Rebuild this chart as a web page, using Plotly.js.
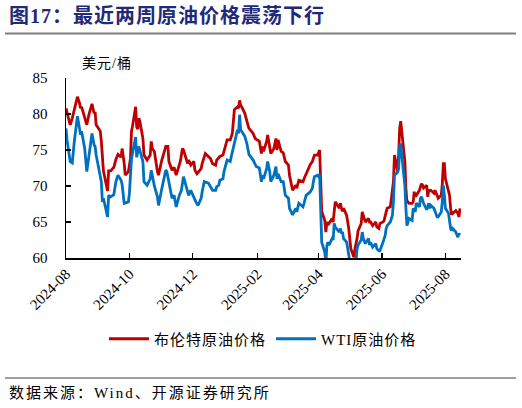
<!DOCTYPE html>
<html>
<head>
<meta charset="utf-8">
<script src="https://cdn.plot.ly/plotly-3.0.1.min.js"></script>
<style>
  body { margin: 0; background: #fff; }
  #chart { width: 522px; height: 408px; }
</style>
</head>
<body>
<div id="chart"></div>
<script>
const brentDates = [
  "2024-08-01","2024-08-02","2024-08-05","2024-08-07","2024-08-09","2024-08-12","2024-08-14","2024-08-15","2024-08-16","2024-08-19",
  "2024-08-21","2024-08-23","2024-08-26","2024-08-28","2024-08-29","2024-08-30","2024-09-03","2024-09-04","2024-09-05","2024-09-06",
  "2024-09-10","2024-09-11","2024-09-13","2024-09-16","2024-09-18","2024-09-20","2024-09-23","2024-09-24","2024-09-26","2024-09-27",
  "2024-09-30","2024-10-02","2024-10-03","2024-10-04","2024-10-07","2024-10-08","2024-10-09","2024-10-10","2024-10-11","2024-10-14",
  "2024-10-15","2024-10-18","2024-10-21","2024-10-22","2024-10-23","2024-10-25","2024-10-28","2024-10-29","2024-11-01","2024-11-05",
  "2024-11-07","2024-11-08","2024-11-11","2024-11-13","2024-11-15","2024-11-18","2024-11-19","2024-11-21","2024-11-22","2024-11-25",
  "2024-11-26","2024-11-27","2024-11-29","2024-12-02","2024-12-03","2024-12-05","2024-12-09","2024-12-10","2024-12-12","2024-12-13",
  "2024-12-16","2024-12-18","2024-12-20","2024-12-23","2024-12-24","2024-12-27","2024-12-30","2024-12-31","2025-01-02","2025-01-03",
  "2025-01-06","2025-01-08","2025-01-10","2025-01-13","2025-01-14","2025-01-15","2025-01-16","2025-01-17","2025-01-20","2025-01-21",
  "2025-01-23","2025-01-24","2025-01-28","2025-01-30","2025-02-03","2025-02-05","2025-02-06","2025-02-07","2025-02-10","2025-02-11",
  "2025-02-13","2025-02-14","2025-02-17","2025-02-19","2025-02-20","2025-02-21","2025-02-24","2025-02-26","2025-02-28","2025-03-03",
  "2025-03-04","2025-03-06","2025-03-07","2025-03-10","2025-03-11","2025-03-13","2025-03-17","2025-03-18","2025-03-20","2025-03-24",
  "2025-03-26","2025-03-27","2025-03-28","2025-03-31","2025-04-02","2025-04-03","2025-04-04","2025-04-07","2025-04-08","2025-04-09",
  "2025-04-10","2025-04-11","2025-04-14","2025-04-15","2025-04-16","2025-04-17","2025-04-21","2025-04-22","2025-04-23","2025-04-24",
  "2025-04-25","2025-04-28","2025-04-30","2025-05-02","2025-05-05","2025-05-06","2025-05-08","2025-05-09","2025-05-12","2025-05-13",
  "2025-05-14","2025-05-16","2025-05-19","2025-05-20","2025-05-21","2025-05-22","2025-05-23","2025-05-26","2025-05-27","2025-05-29",
  "2025-05-30","2025-06-02","2025-06-03","2025-06-05","2025-06-06","2025-06-09","2025-06-11","2025-06-12","2025-06-13","2025-06-16",
  "2025-06-17","2025-06-18","2025-06-19","2025-06-20","2025-06-23","2025-06-24","2025-06-25","2025-06-26","2025-06-27","2025-06-30",
  "2025-07-01","2025-07-02","2025-07-03","2025-07-04","2025-07-07","2025-07-08","2025-07-09","2025-07-10","2025-07-11","2025-07-14",
  "2025-07-15","2025-07-16","2025-07-18","2025-07-21","2025-07-22","2025-07-24","2025-07-25","2025-07-28","2025-07-29","2025-07-30",
  "2025-07-31","2025-08-01","2025-08-04","2025-08-05","2025-08-06","2025-08-07","2025-08-08","2025-08-11","2025-08-13","2025-08-14",
  "2025-08-15"
];
const brentPrices = [
  80.8,80.1,78.5,79.4,80.8,82.4,81.5,80.8,81.0,79.4,
  78.5,79.9,81.4,80.1,80.3,78.5,77.6,76.2,73.0,72.1,
  69.3,72.1,72.1,72.6,73.7,74.4,74.0,75.2,73.1,71.5,
  72.0,73.8,77.6,78.3,81.0,78.2,77.9,79.4,79.0,76.6,
  74.3,73.6,74.3,76.2,75.2,74.8,72.0,71.5,73.5,75.5,
  75.5,73.4,72.2,72.6,71.5,73.1,73.4,75.2,75.0,73.6,
  73.1,73.6,72.9,73.4,72.2,71.7,72.4,73.1,74.1,74.5,
  74.1,73.8,73.1,72.9,73.6,74.1,74.3,74.8,75.7,76.4,
  76.4,77.3,80.6,81.0,80.8,81.9,81.2,81.0,80.1,79.4,
  78.5,78.0,77.3,76.6,76.2,74.5,75.5,74.8,76.2,77.1,
  75.5,74.5,75.2,76.6,75.0,76.4,74.8,74.6,73.4,72.9,
  71.5,69.9,69.4,70.1,69.7,70.8,70.6,71.0,71.7,73.0,
  73.4,74.1,74.3,74.3,75.0,70.8,66.5,65.2,63.6,65.0,
  64.6,64.8,65.5,65.0,66.5,67.8,66.9,67.6,66.9,66.5,
  66.9,65.9,64.1,61.3,60.1,61.3,62.7,63.8,64.8,66.4,
  65.9,65.0,65.5,65.0,65.0,64.8,64.5,65.0,64.3,64.1,
  64.8,65.0,65.2,66.4,66.9,67.1,69.2,70.6,74.3,72.0,
  74.3,78.0,79.0,77.6,73.4,69.7,67.8,67.8,67.6,67.6,
  67.8,69.2,68.5,68.7,69.4,69.9,70.3,70.1,69.7,70.1,
  68.5,69.4,69.4,69.0,69.4,68.7,68.3,68.7,70.3,73.1,
  73.1,71.0,69.0,68.7,66.9,66.0,66.2,66.6,66.2,65.7,
  66.9
];

const wtiDates = [
  "2024-08-01","2024-08-02","2024-08-05","2024-08-07","2024-08-09","2024-08-12","2024-08-14","2024-08-15","2024-08-16","2024-08-19",
  "2024-08-21","2024-08-23","2024-08-26","2024-08-28","2024-08-29","2024-08-30","2024-09-03","2024-09-04","2024-09-05","2024-09-06",
  "2024-09-10","2024-09-11","2024-09-13","2024-09-16","2024-09-18","2024-09-20","2024-09-23","2024-09-24","2024-09-26","2024-09-30",
  "2024-10-01","2024-10-02","2024-10-03","2024-10-07","2024-10-08","2024-10-10","2024-10-11","2024-10-14","2024-10-15","2024-10-18",
  "2024-10-21","2024-10-22","2024-10-23","2024-10-25","2024-10-28","2024-10-29","2024-11-01","2024-11-05","2024-11-06","2024-11-08",
  "2024-11-11","2024-11-13","2024-11-15","2024-11-18","2024-11-20","2024-11-22","2024-11-25","2024-11-26","2024-11-27","2024-11-29",
  "2024-12-02","2024-12-04","2024-12-06","2024-12-09","2024-12-10","2024-12-12","2024-12-16","2024-12-18","2024-12-20","2024-12-23",
  "2024-12-24","2024-12-26","2024-12-27","2024-12-30","2024-12-31","2025-01-03","2025-01-06","2025-01-07","2025-01-10","2025-01-13",
  "2025-01-14","2025-01-15","2025-01-16","2025-01-17","2025-01-20","2025-01-22","2025-01-23","2025-01-24","2025-01-28","2025-01-30",
  "2025-01-31","2025-02-03","2025-02-05","2025-02-06","2025-02-07","2025-02-10","2025-02-11","2025-02-13","2025-02-14","2025-02-17",
  "2025-02-19","2025-02-20","2025-02-21","2025-02-24","2025-02-26","2025-02-28","2025-03-03","2025-03-04","2025-03-06","2025-03-07",
  "2025-03-10","2025-03-11","2025-03-13","2025-03-17","2025-03-18","2025-03-20","2025-03-24","2025-03-26","2025-03-27","2025-03-28",
  "2025-03-31","2025-04-01","2025-04-02","2025-04-03","2025-04-04","2025-04-07","2025-04-08","2025-04-09","2025-04-10","2025-04-11",
  "2025-04-14","2025-04-15","2025-04-16","2025-04-17","2025-04-21","2025-04-22","2025-04-23","2025-04-24","2025-04-25","2025-04-28",
  "2025-04-30","2025-05-01","2025-05-02","2025-05-05","2025-05-07","2025-05-08","2025-05-09","2025-05-12","2025-05-13","2025-05-14",
  "2025-05-16","2025-05-19","2025-05-20","2025-05-21","2025-05-22","2025-05-23","2025-05-26","2025-05-27","2025-05-29","2025-05-30",
  "2025-06-02","2025-06-04","2025-06-05","2025-06-06","2025-06-09","2025-06-11","2025-06-12","2025-06-13","2025-06-16","2025-06-17",
  "2025-06-18","2025-06-19","2025-06-20","2025-06-23","2025-06-24","2025-06-25","2025-06-26","2025-06-27","2025-06-30","2025-07-01",
  "2025-07-03","2025-07-04","2025-07-07","2025-07-08","2025-07-09","2025-07-10","2025-07-11","2025-07-14","2025-07-16","2025-07-17",
  "2025-07-18","2025-07-21","2025-07-22","2025-07-24","2025-07-25","2025-07-28","2025-07-29","2025-07-30","2025-07-31","2025-08-01",
  "2025-08-04","2025-08-05","2025-08-06","2025-08-07","2025-08-08","2025-08-11","2025-08-13","2025-08-14","2025-08-15"
];
const wtiPrices = [
  78.0,76.4,73.4,73.2,76.2,79.7,78.0,77.1,77.6,75.2,
  72.0,73.9,77.3,75.7,75.5,74.3,71.5,70.6,67.8,68.3,
  65.7,68.7,68.5,68.8,70.6,71.5,70.8,70.2,67.6,67.8,
  69.0,71.5,73.8,76.8,74.0,75.5,75.0,73.4,70.6,70.1,
  71.0,72.2,71.5,70.0,68.5,67.3,69.5,72.2,72.0,70.3,
  68.3,68.7,67.1,68.7,69.4,71.3,69.6,69.2,68.7,69.4,
  68.3,67.8,67.3,68.3,69.2,70.6,70.4,69.9,69.4,69.4,
  69.9,70.1,70.8,71.0,72.0,73.6,73.4,74.1,76.2,77.8,
  77.3,79.9,77.8,77.6,76.9,75.9,74.8,74.4,73.6,73.1,
  72.7,72.5,70.6,71.5,71.0,72.4,73.4,72.0,70.6,71.5,
  72.7,71.0,71.7,70.6,70.6,68.7,68.3,66.9,66.4,66.0,
  66.9,66.4,67.6,67.1,67.6,68.7,69.2,69.7,70.6,71.3,
  71.5,71.3,71.6,67.3,62.2,60.8,59.2,61.8,62.2,61.8,
  62.7,62.5,64.8,64.3,63.6,64.1,63.4,63.6,62.7,62.2,
  60.0,59.2,58.7,58.4,59.5,61.3,61.8,62.5,63.6,62.7,
  62.0,62.7,61.8,62.2,61.8,61.5,62.0,61.3,61.0,61.0,
  62.2,63.1,64.1,64.5,65.0,65.9,67.8,71.5,71.9,72.4,
  75.5,75.9,74.3,70.1,66.9,64.5,65.0,65.5,65.2,66.9,
  66.4,67.6,67.1,68.3,68.5,67.8,67.6,66.7,67.6,66.9,
  67.3,66.9,66.4,65.7,65.7,66.4,67.8,70.1,68.7,66.9,
  66.2,65.0,64.1,63.8,64.1,63.6,62.9,63.4,63.2
];

const seriesNames = ["布伦特原油价格", "WTI原油价格"];
const yTicks = [60, 65, 70, 75, 80, 85];

// plot box in page pixels, used to place the decoration outside it
const W = 522, H = 408;
const plotL = 66, plotR = 461, plotT = 78, plotB = 258;
const px = x => (x - plotL) / (plotR - plotL);
const py = y => (plotB - y) / (plotB - plotT);

const cjk = "Liberation Serif, Noto Sans CJK SC, serif";
const spaced = (s, n) => '<span style="letter-spacing:' + n + 'px">' + s + '</span>';

const data = [
  {
    type: "scatter",
    mode: "lines",
    name: spaced(seriesNames[0], 1),
    x: brentDates,
    y: brentPrices,
    line: { color: "#C00000", width: 2.8 }
  },
  {
    type: "scatter",
    mode: "lines",
    name: spaced(seriesNames[1], 1),
    x: wtiDates,
    y: wtiPrices,
    line: { color: "#0070C0", width: 2.8 }
  }
];

const axisCommon = {
  showline: true,
  linecolor: "#000",
  linewidth: 1.5,
  ticks: "inside",
  ticklen: 5,
  tickwidth: 1.2,
  tickcolor: "#000",
  showgrid: false,
  zeroline: false,
  tickfont: { family: "Liberation Serif", size: 15, color: "#000" }
};

const layout = {
  width: W,
  height: H,
  margin: { l: plotL, r: W - plotR, t: plotT, b: H - plotB, pad: 0 },
  paper_bgcolor: "#fff",
  plot_bgcolor: "#fff",
  showlegend: true,
  font: { family: cjk, color: "#000" },
  xaxis: Object.assign({}, axisCommon, {
    type: "date",
    range: ["2024-08-01", "2025-08-16"],
    tick0: "2024-08-01",
    dtick: "M2",
    tickformat: "%Y-%m",
    tickangle: -45
  }),
  yaxis: Object.assign({}, axisCommon, {
    range: [60, 85],
    tickvals: yTicks,
    ticklabelstandoff: 14
  }),
  legend: {
    orientation: "h",
    x: px(263),
    xanchor: "center",
    y: py(339),
    yanchor: "middle",
    font: { family: cjk, size: 15, color: "#000" },
    itemwidth: 40,
    bgcolor: "rgba(0,0,0,0)"
  },
  annotations: [
    {
      text: "<b>" + spaced("图17：最近两周原油价格震荡下行", 1) + "</b>",
      xref: "paper", yref: "paper",
      x: px(7), y: py(16),
      xanchor: "left", yanchor: "middle",
      showarrow: false,
      font: { family: cjk, size: 20, color: "#1F2A7A" }
    },
    {
      text: spaced("美元/桶", 1),
      xref: "paper", yref: "paper",
      x: px(107), y: py(63),
      xanchor: "center", yanchor: "middle",
      showarrow: false,
      font: { family: cjk, size: 14, color: "#000" }
    },
    {
      text: spaced("数据来源：Wind、开源证券研究所", 2),
      xref: "paper", yref: "paper",
      x: px(7), y: py(393),
      xanchor: "left", yanchor: "middle",
      showarrow: false,
      font: { family: cjk, size: 15, color: "#000" }
    }
  ],
  shapes: [
    {
      type: "line", xref: "paper", yref: "paper",
      x0: px(5), x1: px(516), y0: py(33.5), y1: py(33.5),
      line: { color: "#7F7F7F", width: 2 }
    },
    {
      type: "line", xref: "paper", yref: "paper",
      x0: px(5), x1: px(516), y0: py(378), y1: py(378),
      line: { color: "#7F7F7F", width: 1.5 }
    }
  ]
};

const config = { staticPlot: true, displayModeBar: false };

Plotly.newPlot("chart", data, layout, config);
</script>
</body>
</html>
